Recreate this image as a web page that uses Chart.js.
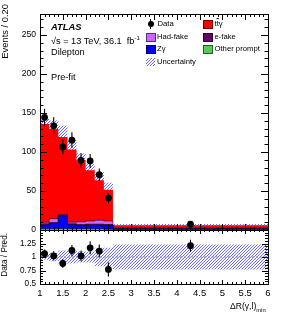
<!DOCTYPE html>
<html>
<head>
<meta charset="utf-8">
<script src="https://cdn.jsdelivr.net/npm/chart.js@4"></script>
<style>
body { margin: 0; background: #fff; }
#wrap { position: relative; width: 283px; height: 318px; overflow: hidden; font-family: "Liberation Sans", Arial, sans-serif; color: #000; }
canvas { position: absolute; left: 0; }
#main { top: 0; }
#ratio { top: 220px; }
.t { position: absolute; white-space: nowrap; line-height: 1; }
.vt { position: absolute; white-space: nowrap; line-height: 1; writing-mode: vertical-rl; transform: rotate(180deg); }
.box { position: absolute; width: 8px; height: 7px; border: 1px solid rgba(0,0,0,0.55); }
.leg { font-size: 7.7px; }
</style>
</head>
<body>
<div id="wrap">
  <canvas id="main" width="283" height="240"></canvas>
  <canvas id="ratio" width="283" height="98"></canvas>

  <div class="vt" style="left:0px;top:4px;font-size:9.4px;">Events / 0.20</div>
  <div class="vt" style="left:1px;top:233px;font-size:8.2px;">Data / Pred.</div>

  <div class="t" style="left:51px;top:22px;font-size:9.4px;font-weight:bold;font-style:italic;">ATLAS</div>
  <div class="t" style="left:51px;top:34.5px;font-size:9.2px;">√s = 13 TeV, 36.1&nbsp; fb<sup style="font-size:6px;vertical-align:4px;">-1</sup></div>
  <div class="t" style="left:51px;top:47.5px;font-size:9.2px;">Dilepton</div>
  <div class="t" style="left:51px;top:72.5px;font-size:9.2px;">Pre-fit</div>

  <!-- legend -->
  <div style="position:absolute;left:147.5px;top:20.5px;width:6.5px;height:6.5px;border-radius:50%;background:#000;"></div>
  <div style="position:absolute;left:150.3px;top:19px;width:1px;height:10px;background:#000;"></div>
  <div class="t leg" style="left:157.5px;top:20.2px;">Data</div>

  <div class="box" style="left:203px;top:20px;background:#ff0000;"></div>
  <div class="t leg" style="left:214.5px;top:20.2px;">t<span style="text-decoration:overline;">t</span>γ</div>

  <div class="box" style="left:146px;top:32.5px;background:#cc66ff;"></div>
  <div class="t leg" style="left:157px;top:32.8px;">Had-fake</div>

  <div class="box" style="left:203px;top:32.5px;background:#660066;"></div>
  <div class="t leg" style="left:214.5px;top:32.8px;">e-fake</div>

  <div class="box" style="left:146px;top:45px;background:#0000ff;"></div>
  <div class="t leg" style="left:157px;top:45.4px;">Zγ</div>

  <div class="box" style="left:203px;top:45px;background:#55cc55;"></div>
  <div class="t leg" style="left:214.5px;top:45.4px;">Other prompt</div>

  <canvas id="legHatch" width="9" height="8" style="left:146px;top:58px;"></canvas>
  <div class="t leg" style="left:157px;top:58.2px;">Uncertainty</div>

  <div class="t" style="left:230px;top:301.5px;font-size:8.6px;">ΔR(γ,l)<sub style="font-size:5.8px;vertical-align:-3px;">min</sub></div>
</div>

<script>
// binning: 0.2 wide bins up to 2.6, then one wide bin up to 6
const binEdges = [1.0, 1.2, 1.4, 1.6, 1.8, 2.0, 2.2, 2.4, 2.6, 6.0];
const binCentres = [1.1, 1.3, 1.5, 1.7, 1.9, 2.1, 2.3, 2.5, 4.3];

// stacked predictions (events / 0.20)
const otherPrompt = [1.5, 1.5, 2, 1.5, 1.5, 1.5, 1.5, 1, 0.3];
const zGamma = [4.5, 7, 16, 5.5, 4.5, 5, 5, 5, 1.2];
const eFake = [2, 1, 1, 1, 1, 1, 1, 1, 0.3];
const hadFake = [2, 5, 1, 2, 3.5, 4, 5, 4.5, 0.6];
const ttGamma = [125.8, 115.5, 99.4, 93.2, 78.9, 65.1, 51.2, 40.2, 3.8];

// relative uncertainty of the prediction
const uncRel = [0.05, 0.08, 0.12, 0.12, 0.1, 0.1, 0.17, 0.17, 0.23];

// data
const dataValues = [144.4, 133.6, 106.6, 115.2, 89.4, 88.5, 71, 40.9, 7.5];
const dataErrors = [11, 11, 9.5, 10, 9, 9, 8, 6.5, 1.2];

// ratio panel
const ratioValues = [1.06, 1.02, 0.88, 1.12, 1.02, 1.17, 1.11, 0.77, 1.21];
const ratioErrors = [0.08, 0.085, 0.08, 0.1, 0.1, 0.12, 0.12, 0.13, 0.11];

// axis ticks
const xTicks = [1, 1.5, 2, 2.5, 3, 3.5, 4, 4.5, 5, 5.5, 6];
const yTicks = [0, 50, 100, 150, 200, 250];
const ratioTicks = [0.5, 0.75, 1, 1.25];

const FONT = "'Liberation Sans', Arial, sans-serif";
const HATCH_COLOR = '#6a6aff';

function histLine(vals) {
  return binEdges.map((e, i) => ({ x: e, y: vals[Math.min(i, vals.length - 1)] }));
}
function points(xs, ys) {
  return xs.map((x, i) => ({ x: x, y: ys[i] }));
}
function addUp(a, b) {
  return a.map((v, i) => v + b[i]);
}

const cumOther = otherPrompt;
const cumZ = addUp(cumOther, zGamma);
const cumE = addUp(cumZ, eFake);
const cumHad = addUp(cumE, hadFake);
const cumTotal = addUp(cumHad, ttGamma);

const bandUp = cumTotal.map((v, i) => v * (1 + uncRel[i]));
const bandDown = cumTotal.map((v, i) => v * (1 - uncRel[i]));
const ratioUp = uncRel.map(r => 1 + r);
const ratioDown = uncRel.map(r => 1 - r);

// crisp "///" hatch tile, one pixel lines
function hatchTile() {
  const c = document.createElement('canvas');
  c.width = 3; c.height = 3;
  const g = c.getContext('2d');
  g.fillStyle = HATCH_COLOR;
  for (let i = 0; i < 3; i++) g.fillRect(i, 2 - i, 1, 1);
  return c;
}
const tile = hatchTile();
function hatch(ctx) {
  return ctx.createPattern(tile, 'repeat');
}

(function () {
  const g = document.getElementById('legHatch').getContext('2d');
  g.fillStyle = hatch(g);
  g.fillRect(0, 0, 9, 8);
})();

function stackSet(vals, color, border) {
  return {
    data: histLine(vals),
    stepped: 'before',
    pointRadius: 0,
    borderWidth: border,
    borderColor: border ? 'rgba(0,0,0,0.75)' : 'transparent',
    backgroundColor: color,
    fill: 'origin'
  };
}

function bandSet(vals, fillTarget, pattern) {
  return {
    data: histLine(vals),
    stepped: 'before',
    pointRadius: 0,
    borderWidth: 0,
    borderColor: 'transparent',
    backgroundColor: pattern || 'transparent',
    fill: fillTarget === null ? false : { target: fillTarget }
  };
}

function errorBars(xs, vals, errs) {
  return {
    id: 'errorBars',
    afterDatasetsDraw(chart) {
      const { ctx, scales: { x, y } } = chart;
      ctx.save();
      ctx.strokeStyle = '#000';
      ctx.lineWidth = 1.1;
      vals.forEach((v, i) => {
        const px = x.getPixelForValue(xs[i]);
        ctx.beginPath();
        ctx.moveTo(px, y.getPixelForValue(v - errs[i]));
        ctx.lineTo(px, y.getPixelForValue(v + errs[i]));
        ctx.stroke();
      });
      ctx.restore();
    }
  };
}

// ROOT style frame with ticks pointing inwards on all four sides
function frame(opt) {
  return {
    id: 'frame',
    afterDraw(chart) {
      const { ctx, chartArea: a, scales: { x, y } } = chart;
      ctx.save();
      ctx.strokeStyle = '#000';
      ctx.lineWidth = 1;
      ctx.beginPath();
      for (let k = 0; ; k++) {
        const v = x.min + k * opt.xMinor;
        if (v > x.max + 1e-6) break;
        const major = Math.abs(v * 2 - Math.round(v * 2)) < 1e-6;
        const len = major ? opt.xMajorLen : opt.xMajorLen / 2;
        const px = Math.round(x.getPixelForValue(v)) + 0.5;
        ctx.moveTo(px, a.bottom); ctx.lineTo(px, a.bottom - len);
        ctx.moveTo(px, a.top); ctx.lineTo(px, a.top + len);
      }
      for (let k = 0; ; k++) {
        const v = y.min + k * opt.yMinor;
        if (v > y.max + 1e-6) break;
        const major = Math.abs(v / opt.yMajor - Math.round(v / opt.yMajor)) < 1e-6;
        const len = major ? opt.yMajorLen : opt.yMajorLen / 2;
        const py = Math.round(y.getPixelForValue(v)) + 0.5;
        ctx.moveTo(a.left, py); ctx.lineTo(a.left + len, py);
        ctx.moveTo(a.right, py); ctx.lineTo(a.right - len, py);
      }
      ctx.stroke();
      ctx.strokeRect(Math.round(a.left) + 0.5, Math.round(a.top) + 0.5,
        Math.round(a.right - a.left), Math.round(a.bottom - a.top));
      ctx.restore();
    }
  };
}

const mainCanvas = document.getElementById('main');
const ratioCanvas = document.getElementById('ratio');

new Chart(mainCanvas, {
  type: 'line',
  data: {
    datasets: [
      { data: points(binCentres, dataValues), showLine: false, pointRadius: 3.4, pointBackgroundColor: '#000', pointBorderWidth: 0 },
      stackSet(cumOther, '#55cc55', 0.7),
      stackSet(cumZ, '#0000ff', 0.7),
      stackSet(cumE, '#660066', 0.7),
      stackSet(cumHad, '#cc66ff', 0.7),
      stackSet(cumTotal, '#ff0000', 0),
      bandSet(bandUp, 7, hatch(mainCanvas.getContext('2d'))),
      bandSet(bandDown, null)
    ]
  },
  options: {
    responsive: false,
    animation: false,
    events: [],
    layout: { padding: { left: 0, right: 15, top: 14, bottom: 10 } },
    plugins: { legend: { display: false }, tooltip: { enabled: false } },
    scales: {
      x: { type: 'linear', min: 1, max: 6, display: false },
      y: {
        type: 'linear', min: 0, max: 277,
        grid: { display: false, drawTicks: false },
        border: { display: false },
        afterBuildTicks: s => { s.ticks = yTicks.map(v => ({ value: v })); },
        afterFit: s => { s.width = 40; },
        ticks: { padding: 4, color: '#000', font: { family: FONT, size: 8.6 }, callback: v => String(v) }
      }
    }
  },
  plugins: [errorBars(binCentres, dataValues, dataErrors),
    frame({ xMinor: 0.1, xMajorLen: 6, yMinor: 10, yMajor: 50, yMajorLen: 7 })]
});

new Chart(ratioCanvas, {
  type: 'line',
  data: {
    datasets: [
      { data: points(binCentres, ratioValues), showLine: false, pointRadius: 3.4, pointBackgroundColor: '#000', pointBorderWidth: 0 },
      { data: [{ x: 1, y: 1 }, { x: 6, y: 1 }], pointRadius: 0, borderWidth: 1, borderColor: '#8a8a8a', borderDash: [2, 2], fill: false },
      bandSet(ratioUp, 3, hatch(ratioCanvas.getContext('2d'))),
      bandSet(ratioDown, null)
    ]
  },
  options: {
    responsive: false,
    animation: false,
    events: [],
    layout: { padding: { left: 0, right: 15, top: 10, bottom: 14 } },
    plugins: { legend: { display: false }, tooltip: { enabled: false } },
    scales: {
      x: {
        type: 'linear', min: 1, max: 6,
        grid: { display: false, drawTicks: false },
        border: { display: false },
        afterBuildTicks: s => { s.ticks = xTicks.map(v => ({ value: v })); },
        afterFit: s => { s.height = 20; },
        ticks: { padding: 4, maxRotation: 0, autoSkip: false, color: '#000', font: { family: FONT, size: 9.5 }, callback: v => String(v) }
      },
      y: {
        type: 'linear', min: 0.5, max: 1.5,
        grid: { display: false, drawTicks: false },
        border: { display: false },
        afterBuildTicks: s => { s.ticks = ratioTicks.map(v => ({ value: v })); },
        afterFit: s => { s.width = 40; },
        ticks: { padding: 4, color: '#000', font: { family: FONT, size: 8.2 }, callback: v => String(v) }
      }
    }
  },
  plugins: [errorBars(binCentres, ratioValues, ratioErrors),
    frame({ xMinor: 0.1, xMajorLen: 4, yMinor: 0.05, yMajor: 0.25, yMajorLen: 6 })]
});
</script>
</body>
</html>
